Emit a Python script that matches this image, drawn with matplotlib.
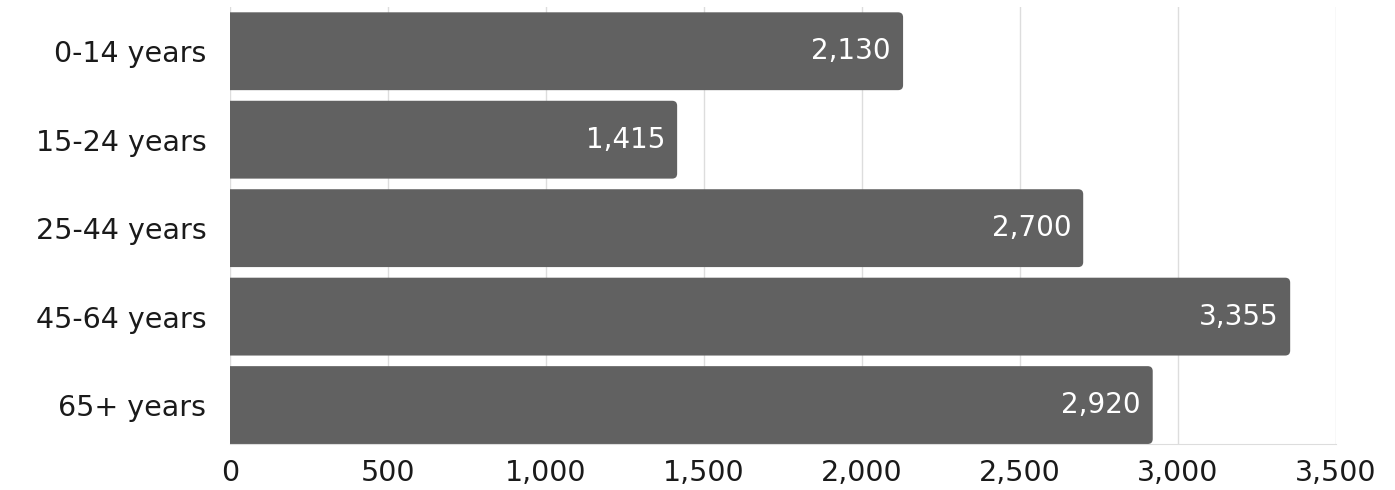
import matplotlib.pyplot as plt
from matplotlib.patches import FancyBboxPatch
from matplotlib.ticker import FuncFormatter

categories = ["0-14 years", "15-24 years", "25-44 years", "45-64 years", "65+ years"]
values = [2130, 1415, 2700, 3355, 2920]
x_ticks = [0, 500, 1000, 1500, 2000, 2500, 3000, 3500]

bar_color = "#616161"
text_color = "#1a1a1a"

plt.rcParams["font.family"] = ["DejaVu Sans"]


def main():
    fig = plt.figure(figsize=(13.95, 4.9), dpi=100)
    # axes box in pixels: left 230, right 1336, top 7, bottom 444
    ax = fig.add_axes([230 / 1395, 46 / 490, 1106 / 1395, 437 / 490])

    bar_h = 0.88
    bars = ax.barh(range(len(categories)), values, height=bar_h, color=bar_color)

    ax.set_xlim(0, 3500)
    ax.set_ylim(len(categories) - 1 + bar_h / 2, -0.5)

    # replace plain bars with ones rounded on the right end
    px_x = 1106 / 3500
    px_y = 437 / (len(categories) - 0.5 + bar_h / 2)
    rad = 5
    for b in bars:
        b.set_visible(False)
        x0, y0 = b.get_x(), b.get_y()
        w, h = b.get_width(), b.get_height()
        patch = FancyBboxPatch((x0 - 100, y0), w + 100, h,
                               boxstyle="round,pad=0,rounding_size=%f" % (rad / px_x),
                               mutation_aspect=px_x / px_y,
                               fc=bar_color, ec="none", zorder=2)
        patch.set_clip_path(ax.patch)
        ax.add_patch(patch)

    for i, v in enumerate(values):
        ax.text(v - 12 / px_x, i, f"{v:,}", ha="right", va="center",
                color="white", fontsize=20, zorder=3)

    ax.set_yticks(range(len(categories)))
    ax.set_yticklabels(categories)
    ax.set_xticks(x_ticks)
    ax.xaxis.set_major_formatter(FuncFormatter(lambda x, p: f"{int(x):,}"))

    ax.tick_params(axis="y", length=0, pad=17, labelsize=20.5, labelcolor=text_color)
    ax.tick_params(axis="x", length=0, pad=11, labelsize=20.5, labelcolor=text_color)

    ax.grid(axis="x", color="#dddddd", linewidth=1)
    ax.set_axisbelow(True)
    for s in ["top", "right", "left"]:
        ax.spines[s].set_visible(False)
    ax.spines["bottom"].set_color("#dddddd")

    fig.savefig("out.png", dpi=100)


if __name__ == "__main__":
    main()
